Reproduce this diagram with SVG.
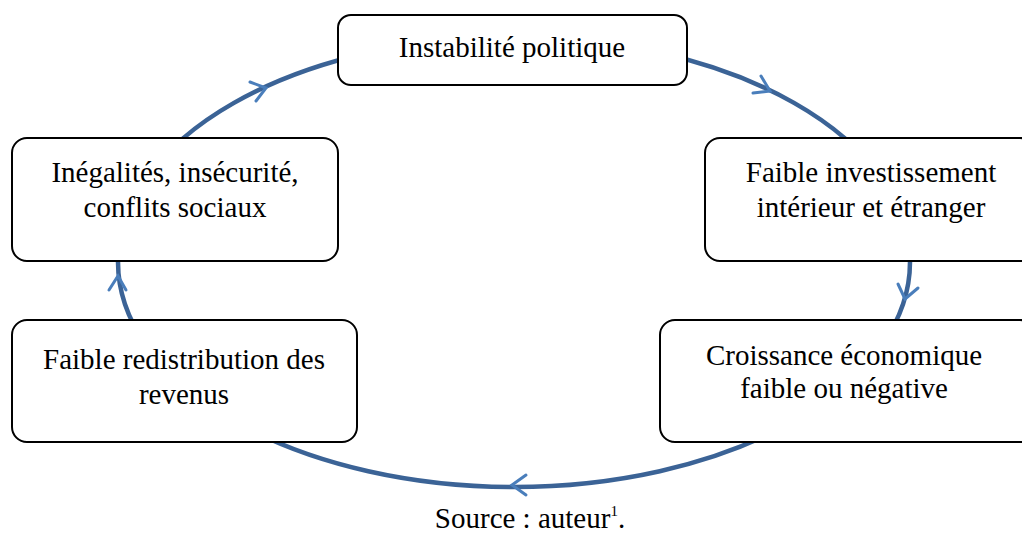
<svg xmlns="http://www.w3.org/2000/svg" width="1022" height="536" viewBox="0 0 1022 536">
<style>
.box{fill:#fff;stroke:#000;stroke-width:2}
.t{font-family:"Liberation Serif","Times New Roman",serif;font-size:29px;fill:#000;text-anchor:middle}
.cyc{fill:none;stroke:#3B6396;stroke-width:4.5}
.ah{fill:none;stroke:#4A7EBB;stroke-width:3;stroke-linecap:round}
</style>
<rect width="1022" height="536" fill="#fff"/>
<g id="connectors">
<ellipse class="cyc" cx="514" cy="262" rx="396" ry="225"/>
<path class="ah" d="M250,82 L266,88 L256,101"/>
<path class="ah" d="M761,76 L770,91 L753,93"/>
<path class="ah" d="M898,284 L905,299 L918,288"/>
<path class="ah" d="M526,475 L512,485 L526,495"/>
<path class="ah" d="M109,290 L118,276 L126,290"/>
</g>
<g id="n1"><rect class="box" x="338" y="15" width="349" height="70" rx="13"/><text class="t" x="512" y="57">Instabilité politique</text></g>
<g id="n2"><rect class="box" x="705" y="138" width="330" height="123" rx="15"/><text class="t" x="871" y="182">Faible investissement</text><text class="t" x="871" y="217">intérieur et étranger</text></g>
<g id="n3"><rect class="box" x="660" y="320" width="375" height="122" rx="15"/><text class="t" x="844" y="365">Croissance économique</text><text class="t" x="844" y="398">faible ou négative</text></g>
<g id="n4"><rect class="box" x="12" y="320" width="345" height="122" rx="15"/><text class="t" x="184" y="369">Faible redistribution des</text><text class="t" x="184" y="404">revenus</text></g>
<g id="n5"><rect class="box" x="12" y="138" width="326" height="123" rx="15"/><text class="t" x="175" y="182">Inégalités, insécurité,</text><text class="t" x="175" y="217">conflits sociaux</text></g>
<text class="t" x="530" y="528">Source : auteur<tspan font-size="15" dy="-12">1</tspan><tspan dy="12">.</tspan></text>
</svg>
